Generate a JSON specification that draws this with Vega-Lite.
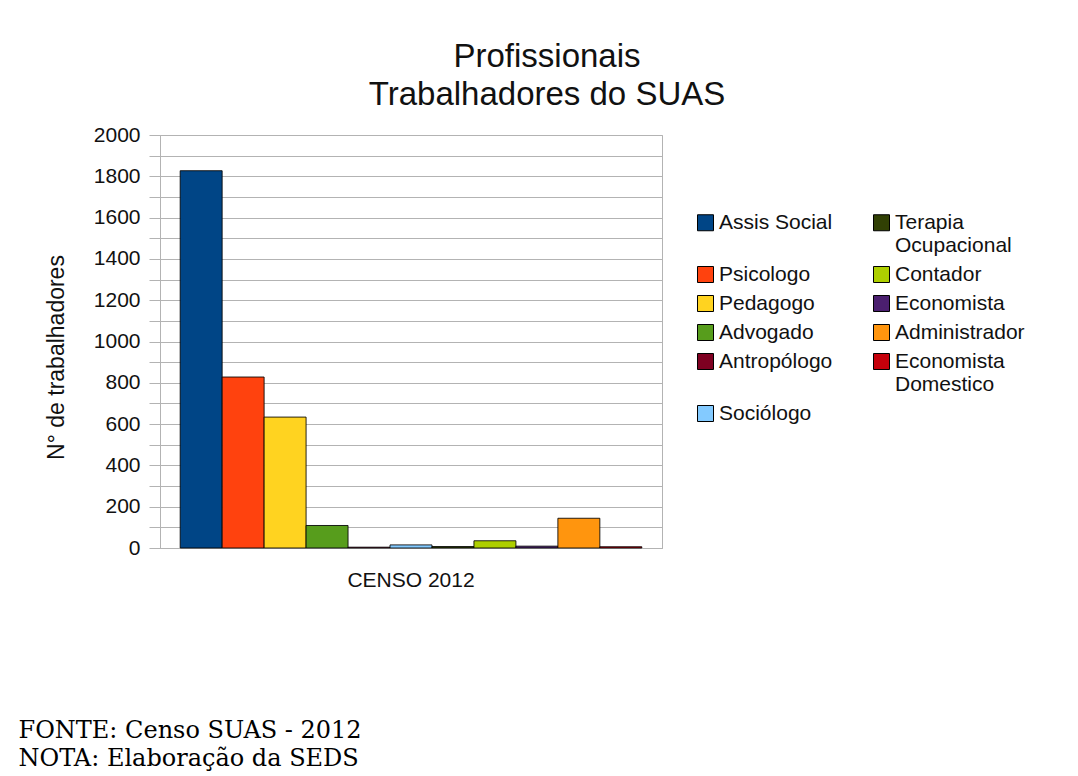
{
  "$schema": "https://vega.github.io/schema/vega-lite/v6.json",
  "autosize": {"type": "none"},
  "width": 502,
  "height": 413,
  "padding": {"left": 160, "top": 135, "right": 416, "bottom": 228},
  "background": "white",
  "title": {
    "text": ["Profissionais", "Trabalhadores do SUAS"],
    "anchor": "middle",
    "frame": "group",
    "dx": 136,
    "offset": 12,
    "font": "Liberation Sans",
    "fontSize": 33,
    "fontWeight": "normal",
    "color": "#111",
    "lineHeight": 38
  },
  "data": {
    "values": [
      {"censo": "CENSO 2012", "prof": "Assis Social", "n": 1827},
      {"censo": "CENSO 2012", "prof": "Psicologo", "n": 828},
      {"censo": "CENSO 2012", "prof": "Pedagogo", "n": 634},
      {"censo": "CENSO 2012", "prof": "Advogado", "n": 109},
      {"censo": "CENSO 2012", "prof": "Antropólogo", "n": 4},
      {"censo": "CENSO 2012", "prof": "Sociólogo", "n": 15},
      {"censo": "CENSO 2012", "prof": "Terapia Ocupacional", "n": 7},
      {"censo": "CENSO 2012", "prof": "Contador", "n": 35},
      {"censo": "CENSO 2012", "prof": "Economista", "n": 9},
      {"censo": "CENSO 2012", "prof": "Administrador", "n": 144},
      {"censo": "CENSO 2012", "prof": "Economista Domestico", "n": 6}
    ]
  },
  "mark": {"type": "bar", "stroke": "#000", "strokeWidth": 1, "strokeOpacity": 0.85},
  "encoding": {
    "x": {
      "field": "censo",
      "type": "nominal",
      "scale": {"paddingInner": 0, "paddingOuter": 0.0437},
      "axis": {
        "title": ["FONTE: Censo SUAS - 2012", "NOTA: Elaboração da SEDS"],
        "titleFont": "DejaVu Serif",
        "titleFontSize": 24,
        "titleFontWeight": "normal",
        "titleColor": "#000",
        "titleAnchor": "start",
        "titleAlign": "left",
        "titleBaseline": "alphabetic",
        "titleX": -142,
        "titleY": 189,
        "titleLineHeight": 28,
        "labelAngle": 0,
        "labelFont": "Liberation Sans",
        "labelFontSize": 21,
        "labelColor": "#111",
        "labelPadding": 21,
        "ticks": false,
        "domainColor": "#b3b3b3"
      }
    },
    "xOffset": {
      "field": "prof",
      "type": "nominal",
      "sort": ["Assis Social", "Psicologo", "Pedagogo", "Advogado", "Antropólogo", "Sociólogo", "Terapia Ocupacional", "Contador", "Economista", "Administrador", "Economista Domestico"],
      "scale": {"paddingInner": 0, "paddingOuter": 0}
    },
    "y": {
      "field": "n",
      "type": "quantitative",
      "scale": {"domain": [0, 2000], "nice": false},
      "axis": {
        "title": "N° de trabalhadores",
        "titleFont": "Liberation Sans",
        "titleFontSize": 23,
        "titleFontWeight": "normal",
        "titleColor": "#111",
        "titlePadding": 25,
        "titleY": 222,
        "values": [0, 100, 200, 300, 400, 500, 600, 700, 800, 900, 1000, 1100, 1200, 1300, 1400, 1500, 1600, 1700, 1800, 1900, 2000],
        "labelExpr": "datum.value % 200 == 0 ? datum.label : ''",
        "format": "d",
        "labelFont": "Liberation Sans",
        "labelFontSize": 21,
        "labelColor": "#111",
        "labelPadding": 9,
        "tickSize": 11,
        "tickColor": "#b3b3b3",
        "gridColor": "#b3b3b3",
        "domainColor": "#b3b3b3"
      }
    },
    "color": {
      "field": "prof",
      "type": "nominal",
      "scale": {
        "domain": ["Assis Social", "Psicologo", "Pedagogo", "Advogado", "Antropólogo", "Sociólogo", "Terapia Ocupacional", "Contador", "Economista", "Administrador", "Economista Domestico"],
        "range": ["#004586", "#ff420e", "#ffd320", "#579d1c", "#7e0021", "#83caff", "#314004", "#aecf00", "#4b1f6f", "#ff950e", "#c5000b"]
      },
      "legend": {
        "title": null,
        "orient": "none",
        "legendX": 535,
        "legendY": 77,
        "columns": 2,
        "columnPadding": 38,
        "rowPadding": 7,
        "symbolType": "square",
        "symbolSize": 256,
        "symbolStrokeColor": "#000",
        "symbolStrokeWidth": 1,
        "symbolOpacity": 1,
        "labelFont": "Liberation Sans",
        "labelFontSize": 21,
        "labelColor": "#111",
        "labelOffset": 3,
        "labelLimit": 300,
        "labelExpr": "datum.label == 'Terapia Ocupacional' ? ['Terapia', 'Ocupacional'] : datum.label == 'Economista Domestico' ? ['Economista', 'Domestico'] : datum.label == 'Assis Social' ? ['Assis Social', ' '] : datum.label == 'Antropólogo' ? ['Antropólogo', ' '] : datum.label"
      }
    }
  },
  "config": {
    "view": {"stroke": "#b3b3b3"},
    "axis": {"gridWidth": 1}
  }
}
